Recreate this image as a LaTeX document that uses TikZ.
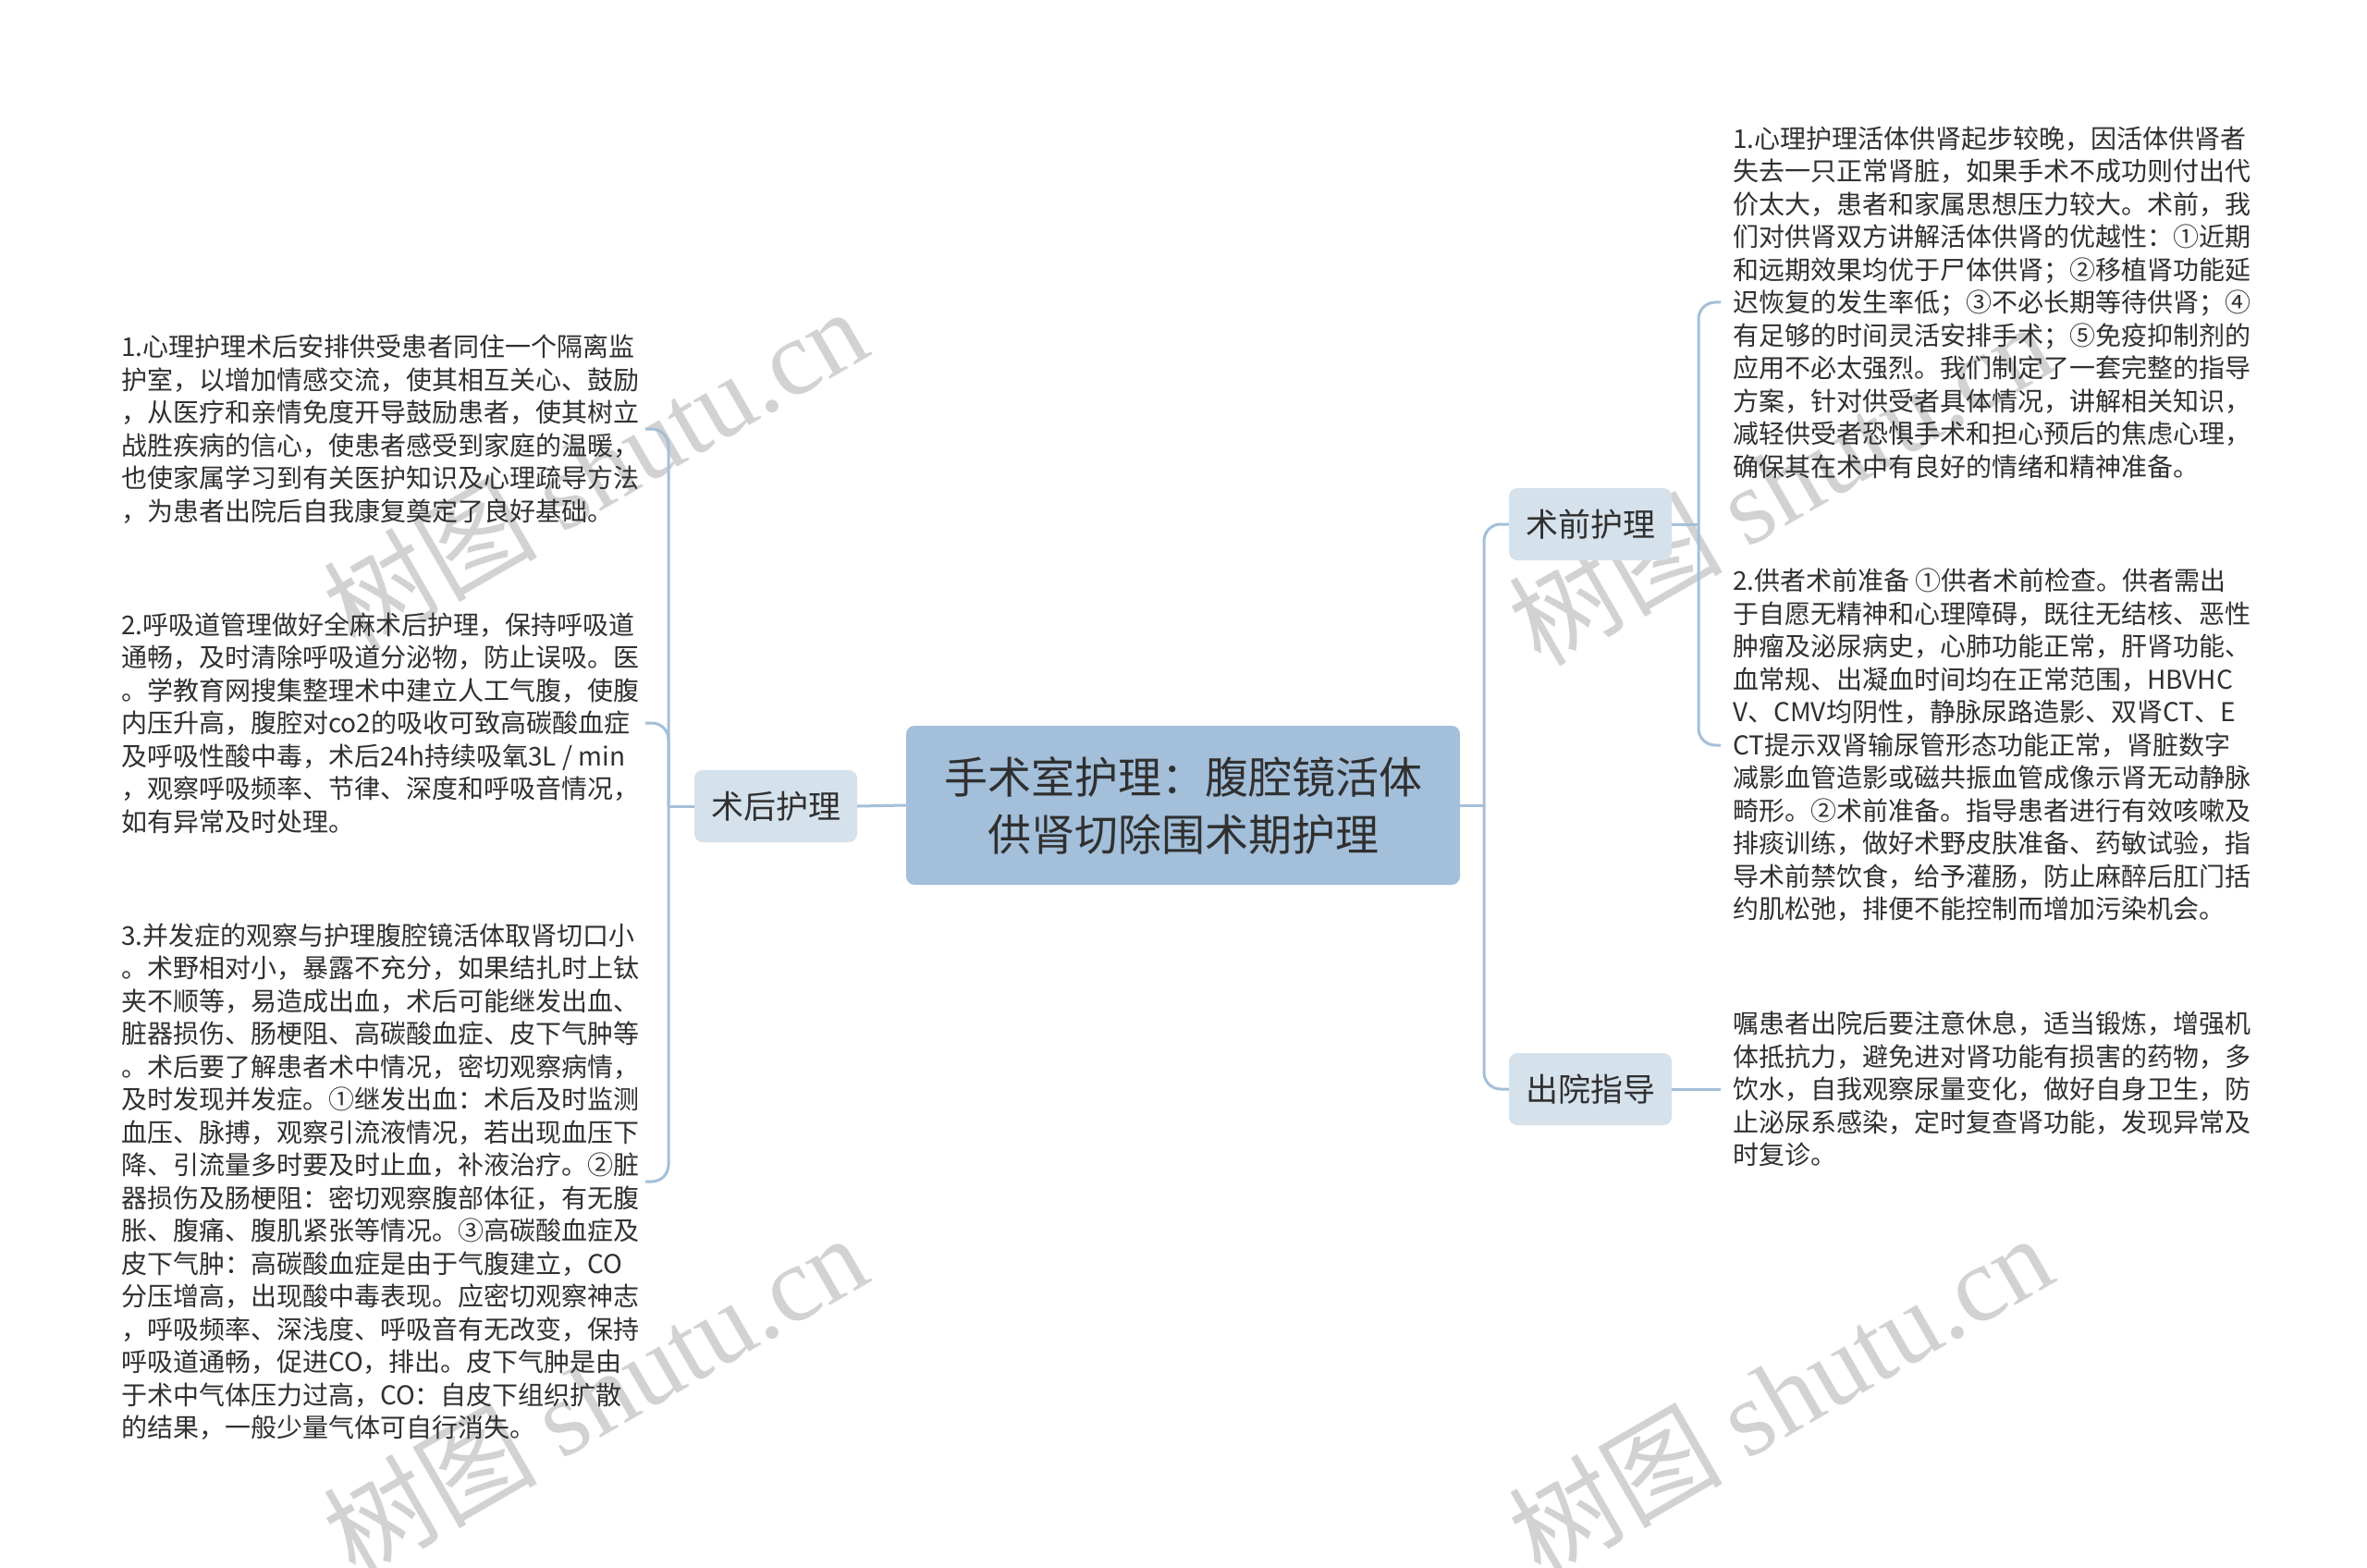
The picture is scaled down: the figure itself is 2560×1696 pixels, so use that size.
\documentclass[tikz,border=0pt]{standalone}
\usepackage{fontspec}
\setmainfont{Noto Sans CJK SC}
\newfontfamily\wmlatin{Liberation Serif}
\definecolor{linec}{HTML}{A4BFD8}
\definecolor{mainc}{HTML}{A3BFDA}
\definecolor{subc}{HTML}{D5E1EB}
\definecolor{txtc}{HTML}{303030}
\definecolor{wmc}{HTML}{C4C4C4}
\tikzset{
  conn/.style={draw=linec,line width=3pt},
  rconn/.style={conn,rounded corners=18pt},
  mainbox/.style={fill=mainc,rounded corners=9pt,minimum width=599pt,minimum height=172pt,
    align=center,text=txtc,inner sep=0pt,font=\fontsize{47}{62}\selectfont},
  subbox/.style={fill=subc,rounded corners=9pt,minimum width=176pt,minimum height=78pt,
    text=txtc,inner sep=0pt,font=\fontsize{35}{42}\selectfont},
  leaf/.style={align=left,text=txtc,inner sep=0pt,anchor=west,font=\fontsize{28}{35.5}\selectfont},
  wm/.style={text=wmc,opacity=0.75,inner sep=0pt,rotate=30,font=\fontsize{116}{120}\selectfont}
}
\begin{document}
\begin{tikzpicture}[x=1pt,y=-1pt]
\useasboundingbox (0,0) rectangle (2560,1696);
\fill[white] (0,0) rectangle (2560,1696);

% watermarks
\node[wm] (wm1) at (643,506) {树图 {\wmlatin shutu.cn}};
\node[wm] (wm2) at (643,1508) {树图 {\wmlatin shutu.cn}};
\node[wm] (wm3) at (1925,522) {树图 {\wmlatin shutu.cn}};
\node[wm] (wm4) at (1925,1508) {树图 {\wmlatin shutu.cn}};

% main nodes
\node[mainbox] (center) at (1279.5,871) {手术室护理：腹腔镜活体\\供肾切除围术期护理};
\node[subbox] (shuhou) at (839,872) {术后护理};
\node[subbox] (shuqian) at (1720,567) {术前护理};
\node[subbox] (chuyuan) at (1720,1178) {出院指导};

% junctions and leaf ends
\coordinate (jL) at (723,872);
\coordinate (jR) at (1605,871);
\coordinate (jR2) at (1837,567);
\coordinate (L1e) at (698,464);
\coordinate (L2e) at (698,782);
\coordinate (L3e) at (698,1278);
\coordinate (R1e) at (1861,327);
\coordinate (R2e) at (1861,806);
\coordinate (R3e) at (1861,1178);

% leaves
\node[leaf] (l1) at (131,464) {1.心理护理术后安排供受患者同住一个隔离监\\
护室，以增加情感交流，使其相互关心、鼓励\\
，从医疗和亲情免度开导鼓励患者，使其树立\\
战胜疾病的信心，使患者感受到家庭的温暖，\\
也使家属学习到有关医护知识及心理疏导方法\\
，为患者出院后自我康复奠定了良好基础。};

\node[leaf] (l2) at (131,782) {2.呼吸道管理做好全麻术后护理，保持呼吸道\\
通畅，及时清除呼吸道分泌物，防止误吸。医\\
。学教育网搜集整理术中建立人工气腹，使腹\\
内压升高，腹腔对co2的吸收可致高碳酸血症\\
及呼吸性酸中毒，术后24h持续吸氧3L / min\\
，观察呼吸频率、节律、深度和呼吸音情况，\\
如有异常及时处理。};

\node[leaf] (l3) at (131,1278) {3.并发症的观察与护理腹腔镜活体取肾切口小\\
。术野相对小，暴露不充分，如果结扎时上钛\\
夹不顺等，易造成出血，术后可能继发出血、\\
脏器损伤、肠梗阻、高碳酸血症、皮下气肿等\\
。术后要了解患者术中情况，密切观察病情，\\
及时发现并发症。①继发出血：术后及时监测\\
血压、脉搏，观察引流液情况，若出现血压下\\
降、引流量多时要及时止血，补液治疗。②脏\\
器损伤及肠梗阻：密切观察腹部体征，有无腹\\
胀、腹痛、腹肌紧张等情况。③高碳酸血症及\\
皮下气肿：高碳酸血症是由于气腹建立，CO\\
分压增高，出现酸中毒表现。应密切观察神志\\
，呼吸频率、深浅度、呼吸音有无改变，保持\\
呼吸道通畅，促进CO，排出。皮下气肿是由\\
于术中气体压力过高，CO：自皮下组织扩散\\
的结果，一般少量气体可自行消失。};

\node[leaf] (r1) at (1874,327) {1.心理护理活体供肾起步较晚，因活体供肾者\\
失去一只正常肾脏，如果手术不成功则付出代\\
价太大，患者和家属思想压力较大。术前，我\\
们对供肾双方讲解活体供肾的优越性：①近期\\
和远期效果均优于尸体供肾；②移植肾功能延\\
迟恢复的发生率低；③不必长期等待供肾；④\\
有足够的时间灵活安排手术；⑤免疫抑制剂的\\
应用不必太强烈。我们制定了一套完整的指导\\
方案，针对供受者具体情况，讲解相关知识，\\
减轻供受者恐惧手术和担心预后的焦虑心理，\\
确保其在术中有良好的情绪和精神准备。};

\node[leaf] (r2) at (1874,806) {2.供者术前准备 ①供者术前检查。供者需出\\
于自愿无精神和心理障碍，既往无结核、恶性\\
肿瘤及泌尿病史，心肺功能正常，肝肾功能、\\
血常规、出凝血时间均在正常范围，HBVHC\\
V、CMV均阴性，静脉尿路造影、双肾CT、E\\
CT提示双肾输尿管形态功能正常，肾脏数字\\
减影血管造影或磁共振血管成像示肾无动静脉\\
畸形。②术前准备。指导患者进行有效咳嗽及\\
排痰训练，做好术野皮肤准备、药敏试验，指\\
导术前禁饮食，给予灌肠，防止麻醉后肛门括\\
约肌松弛，排便不能控制而增加污染机会。};

\node[leaf] (r3) at (1874,1178) {嘱患者出院后要注意休息，适当锻炼，增强机\\
体抵抗力，避免进对肾功能有损害的药物，多\\
饮水，自我观察尿量变化，做好自身卫生，防\\
止泌尿系感染，定时复查肾功能，发现异常及\\
时复诊。};

% connectors
\draw[conn] (center.west) -- (shuhou.east);
\draw[conn] (shuhou.west) -- (jL);
\draw[rconn] (jL) |- (L1e);
\draw[rconn] (jL) |- (L2e);
\draw[rconn] (jL) |- (L3e);

\draw[conn] (center.east) -- (jR);
\draw[rconn] (jR) |- (shuqian.west);
\draw[rconn] (jR) |- (chuyuan.west);

\draw[conn] (shuqian.east) -- (jR2);
\draw[rconn] (jR2) |- (R1e);
\draw[rconn] (jR2) |- (R2e);
\draw[conn] (chuyuan.east) -- (R3e);
\end{tikzpicture}
\end{document}
